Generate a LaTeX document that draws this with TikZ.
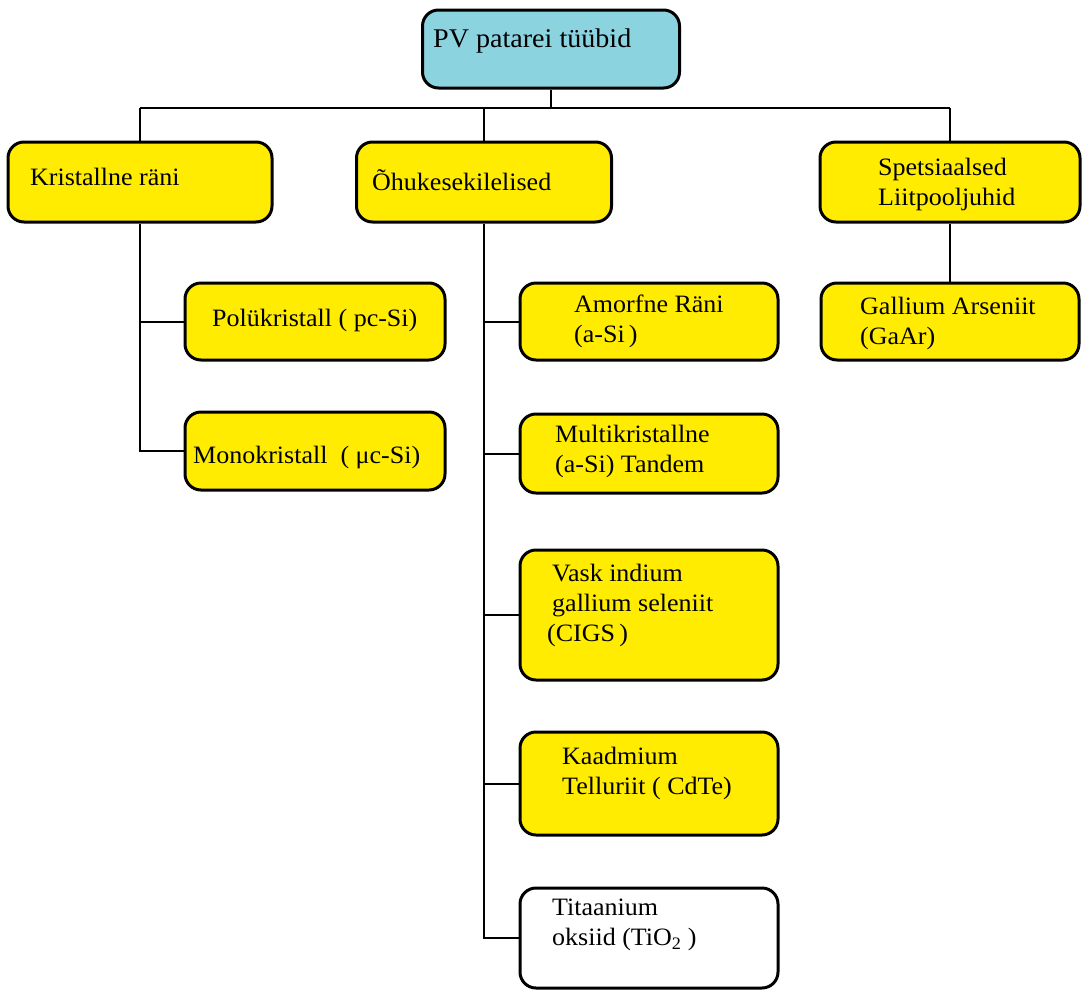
\documentclass[tikz,border=0pt]{standalone}
\usepackage{fontspec}
\setmainfont{Liberation Serif}
\newfontfamily\tnr{Liberation Serif}[FakeStretch=1.04]
\usetikzlibrary{backgrounds}
\definecolor{boxyellow}{RGB}{255,236,0}
\definecolor{rootcyan}{RGB}{140,211,224}
\begin{document}
\begin{tikzpicture}[x=1pt,y=-1pt,
  box/.style={draw=black, line width=3pt, rounded corners=16pt, fill=boxyellow, inner sep=0pt},
  lbl/.style={anchor=west, align=left, inner sep=0pt, font=\tnr\fontsize{25}{30}\selectfont},
  conn/.style={draw=black, line width=2pt}]
\useasboundingbox (0,0) rectangle (1084,991);

% boxes
\node[box, fill=rootcyan, minimum width=257pt, minimum height=78pt] (root) at (551,49) {};
\node[box, minimum width=264pt, minimum height=80pt] (kr) at (140,182) {};
\node[box, minimum width=255pt, minimum height=80pt] (oh) at (484,182) {};
\node[box, minimum width=260pt, minimum height=80pt] (sp) at (950,182) {};
\node[box, minimum width=258pt, minimum height=77pt] (ga) at (950,321.5) {};
\node[box, minimum width=260pt, minimum height=77pt] (pol) at (315,321.5) {};
\node[box, minimum width=260pt, minimum height=78pt] (mono) at (315,451) {};
\node[box, minimum width=258pt, minimum height=77pt] (am) at (649,321.5) {};
\node[box, minimum width=258pt, minimum height=79pt] (mu) at (649,453.5) {};
\node[box, minimum width=258pt, minimum height=130pt] (va) at (649,615) {};
\node[box, minimum width=258pt, minimum height=103pt] (ka) at (649,783.5) {};
\node[box, fill=white, minimum width=258pt, minimum height=100pt] (ti) at (649,938) {};

% labels
\node[lbl, font=\tnr\fontsize{27}{32}\selectfont] (roott) at (433,41) {PV patarei tüübid};
\node[lbl] (krt) at (30,177) {Kristallne räni};
\node[lbl] (oht) at (372,180) {Õhukesekilelised};
\node[lbl] (spt) at (878,184) {Spetsiaalsed\\Liitpooljuhid};
\node[lbl] (gat) at (860,323) {Gallium Arseniit\\(GaAr)};
\node[lbl] (polt) at (212,320) {Polükristall ( pc-Si)};
\node[lbl] (monot) at (193,457) {Monokristall\ \ ( μc-Si)};
\node[lbl] (amt) at (574,321) {Amorfne Räni\\(a-Si\,)};
\node[lbl] (mut) at (555,451) {Multikristallne\\(a-Si) Tandem};
\node[lbl] (vat) at (547,605) {\hspace*{5pt}Vask indium\\\hspace*{5pt}gallium seleniit\\(CIGS\,)};
\node[lbl] (kat) at (562,773) {Kaadmium\\Telluriit ( CdTe)};
\node[lbl] (tit) at (552,925) {Titaanium\\oksiid (TiO\textsubscript{2} )};

% connectors
\coordinate (busL) at (140,108);
\coordinate (busR) at (950,108);
\begin{scope}[on background layer]
\draw[conn] (root.south) -- (root.south |- busL);
\draw[conn] (busL) -- (busR);
\draw[conn] (busL) -- (kr.north);
\draw[conn] (oh.north |- busL) -- (oh.north);
\draw[conn] (busR) -- (sp.north);
\draw[conn] (sp.south) -- (ga.north);
\draw[conn] (kr.south) -- (kr.south |- mono.west) -- (mono.west);
\draw[conn] (kr.south |- pol.west) -- (pol.west);
\draw[conn] (oh.south) -- (oh.south |- ti.west) -- (ti.west);
\draw[conn] (oh.south |- am.west) -- (am.west);
\draw[conn] (oh.south |- mu.west) -- (mu.west);
\draw[conn] (oh.south |- va.west) -- (va.west);
\draw[conn] (oh.south |- ka.west) -- (ka.west);
\end{scope}
\end{tikzpicture}
\end{document}
